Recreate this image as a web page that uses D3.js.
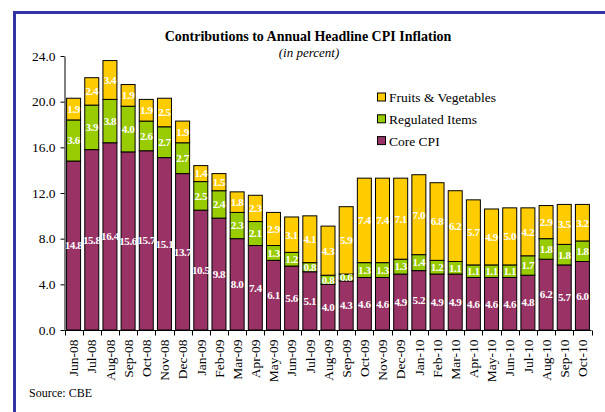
<!DOCTYPE html>
<html><head><meta charset="utf-8">
<script src="https://cdn.jsdelivr.net/npm/d3@7"></script>
<style>
html,body{margin:0;padding:0;background:#fff;}
svg{display:block;font-family:"Liberation Serif","Times New Roman",serif;}
</style></head>
<body>
<svg id="chart" width="605" height="412"></svg>
<script>
const months = ["Jun-08","Jul-08","Aug-08","Sep-08","Oct-08","Nov-08","Dec-08","Jan-09","Feb-09","Mar-09","Apr-09","May-09","Jun-09","Jul-09","Aug-09","Sep-09","Oct-09","Nov-09","Dec-09","Jan-10","Feb-10","Mar-10","Apr-10","May-10","Jun-10","Jul-10","Aug-10","Sep-10","Oct-10"];
const coreCPI = [14.8,15.8,16.4,15.6,15.7,15.1,13.7,10.5,9.8,8.0,7.4,6.1,5.6,5.1,4.0,4.3,4.6,4.6,4.9,5.2,4.9,4.9,4.6,4.6,4.6,4.8,6.2,5.7,6.0];
const regulated = [3.6,3.9,3.8,4.0,2.6,2.7,2.7,2.5,2.4,2.3,2.1,1.3,1.2,0.8,0.8,0.6,1.3,1.3,1.3,1.4,1.2,1.1,1.1,1.1,1.1,1.7,1.8,1.8,1.8];
const fruitsVeg = [1.9,2.4,3.4,1.9,1.9,2.5,1.9,1.4,1.5,1.8,2.3,2.9,3.1,4.1,4.3,5.9,7.4,7.4,7.1,7.0,6.8,6.2,5.7,4.9,5.0,4.2,2.9,3.5,3.2];
const seriesNames = ["Core CPI","Regulated Items","Fruits & Vegetables"];
const seriesColors = ["#993366","#99cc00","#ffcc00"];
const yTicks = [0,4,8,12,16,20,24];

const svg = d3.select("#chart");
// frame
svg.append("rect").attr("x",14.5).attr("y",12.5).attr("width",700).attr("height",500)
  .attr("fill","none").attr("stroke","#3434a6").attr("stroke-width",3);

const x = d3.scaleBand().domain(months).range([64.5,591.5]).paddingInner(0.23).paddingOuter(0.115);
const y = d3.scaleLinear().domain([0,24]).range([330,56]);

const rows = months.map((m,i)=>({month:m,"Core CPI":coreCPI[i],"Regulated Items":regulated[i],"Fruits & Vegetables":fruitsVeg[i]}));
const stacked = d3.stack().keys(seriesNames)(rows);

const g = svg.append("g");
stacked.forEach((layer,li)=>{
  const lg = g.append("g");
  lg.selectAll("rect").data(layer).join("rect")
    .attr("x",d=>x(d.data.month)).attr("width",x.bandwidth())
    .attr("y",d=>y(d[1])).attr("height",d=>y(d[0])-y(d[1]))
    .attr("fill",seriesColors[li]).attr("stroke","#000").attr("stroke-width",1);
});
stacked.forEach((layer,li)=>{
  g.append("g").selectAll("text").data(layer).join("text")
    .attr("x",d=>x(d.data.month)+x.bandwidth()/2)
    .attr("y",d=>(y(d[0])+y(d[1]))/2)
    .attr("dy","0.35em").attr("text-anchor","middle")
    .attr("fill","#fff").attr("font-weight","bold").attr("font-size",11)
    .attr("letter-spacing","-0.4")
    .text(d=>(d[1]-d[0]).toFixed(1));
});

// y axis
const yAxis = svg.append("g").attr("transform","translate(64.5,0)")
  .call(d3.axisLeft(y).tickValues(yTicks).tickFormat(d3.format(".1f")).tickSize(4).tickPadding(5).tickSizeOuter(0));
yAxis.selectAll("text").attr("font-size",13.5).attr("font-family","Liberation Serif").attr("fill","#000");
yAxis.select(".domain").attr("stroke","#000");

// x axis
const xAxis = svg.append("g").attr("transform","translate(0,330.5)");
xAxis.append("line").attr("x1",64.5).attr("x2",591.5).attr("stroke","#000");
const bounds = months.map(m=>x(m)-x.step()*x.paddingInner()/2).concat([x(months[months.length-1])+x.bandwidth()+x.step()*x.paddingInner()/2]);
xAxis.selectAll("line.tk").data(bounds).join("line").attr("class","tk")
  .attr("x1",d=>Math.round(d)+0.5).attr("x2",d=>Math.round(d)+0.5).attr("y1",0).attr("y2",5).attr("stroke","#000");
xAxis.selectAll("text").data(months).join("text")
  .attr("transform",d=>`translate(${x(d)+x.bandwidth()/2},9) rotate(-90)`)
  .attr("dy","0.35em").attr("text-anchor","end").attr("font-size",13.5).attr("fill","#000")
  .text(d=>d);

// titles
svg.append("text").attr("x",308).attr("y",41).attr("text-anchor","middle")
  .attr("font-weight","bold").attr("font-size",14).text("Contributions to Annual Headline CPI Inflation");
svg.append("text").attr("x",309).attr("y",57).attr("text-anchor","middle")
  .attr("font-style","italic").attr("font-size",13).text("(in percent)");

// legend
const legendOrder = [2,1,0];
const lg = svg.append("g");
legendOrder.forEach((si,k)=>{
  const yy = 97.5 + k*21.8;
  lg.append("rect").attr("x",377.5).attr("y",yy-4.5).attr("width",8).attr("height",8)
    .attr("fill",seriesColors[si]).attr("stroke","#000");
  lg.append("text").attr("x",389).attr("y",yy).attr("dy","0.35em").attr("font-size",13.5).text(seriesNames[si]);
});

svg.append("text").attr("x",29).attr("y",397).attr("font-size",12).text("Source: CBE");
</script>
</body></html>
